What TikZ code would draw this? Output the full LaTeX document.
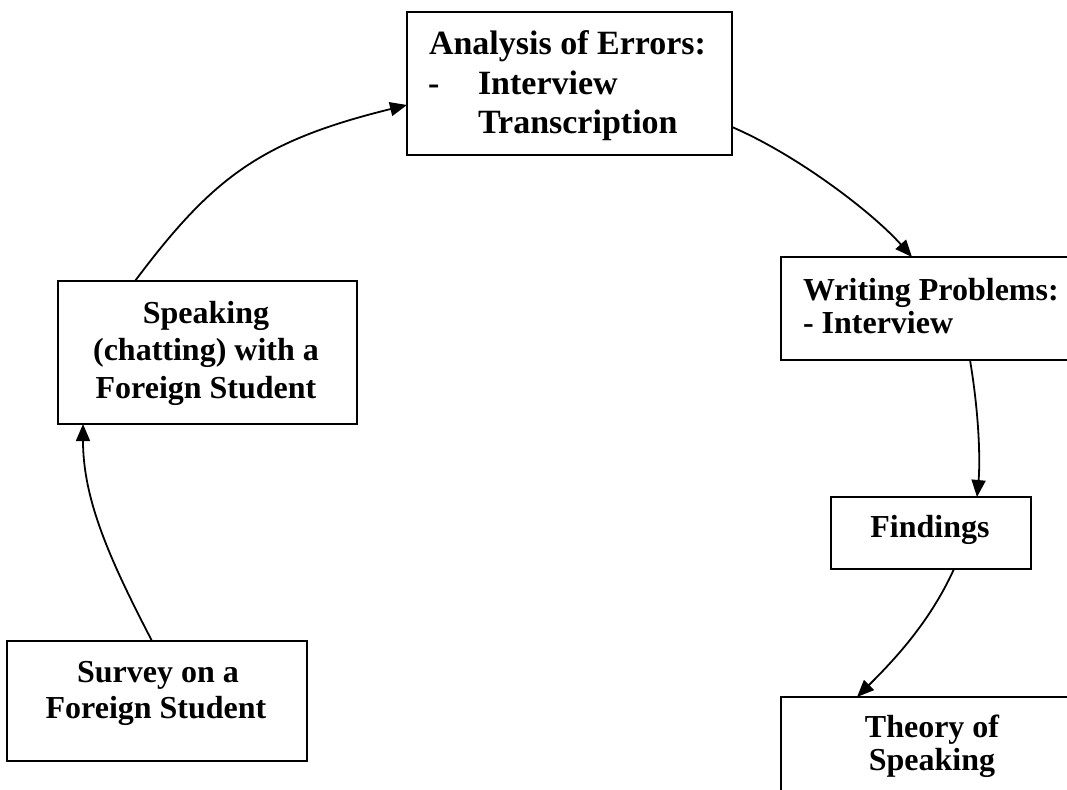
\documentclass[tikz,border=0pt]{standalone}
\usepackage{fontspec}
\setmainfont{Liberation Serif}
\usetikzlibrary{arrows.meta,calc}
\begin{document}
\begin{tikzpicture}[x=1pt,y=-1pt,
  box/.style={draw, line width=2pt, rectangle, inner sep=0pt, outer sep=0pt},
  txt/.style={inner sep=0pt, outer sep=0pt, font=\bfseries\fontsize{32}{38}\selectfont},
  bigtxt/.style={inner sep=0pt, outer sep=0pt, font=\bfseries\fontsize{34}{40}\selectfont},
  conn/.style={line width=1.8pt, -{Triangle[length=17pt,width=14pt]}}]
\useasboundingbox (0,0) rectangle (1067,789);
\fill[white] (0,0) rectangle (1067,789);
\clip (0,0) rectangle (1067,789);

% boxes
\node[box, minimum width=325pt, minimum height=143pt] (ana) at (569.5,83.5) {};
\node[box, minimum width=309pt, minimum height=103pt] (wri) at (935.5,308.5) {};
\node[box, minimum width=299pt, minimum height=143pt] (speak) at (207.5,352.5) {};
\node[box, minimum width=200pt, minimum height=72pt] (find) at (931,533) {};
\node[box, minimum width=300pt, minimum height=120pt] (surv) at (157,701) {};
\node[box, minimum width=309pt, minimum height=133pt] (theo) at (935.5,763.5) {};

% texts
\node[bigtxt, anchor=base west] (t1) at (429,55) {Analysis of Errors:};
\node[bigtxt, anchor=base west] (t2) at (428,95) {-};
\node[bigtxt, anchor=base west] (t3) at (478,95) {Interview};
\node[bigtxt, anchor=base west] (t4) at (478,133) {Transcription};

\node[txt, anchor=base west] (t5) at (803,300) {Writing Problems:};
\node[txt, anchor=base west] (t6) at (803,333) {- Interview};

\node[txt, anchor=base] (t7) at (206,323) {Speaking};
\node[txt, anchor=base] (t8) at (206,360) {(chatting) with a};
\node[txt, anchor=base] (t9) at (206,398) {Foreign Student};

\node[txt, anchor=base] (t10) at (930,537) {Findings};

\node[txt, anchor=base] (t11) at (158,682) {Survey on a};
\node[txt, anchor=base] (t12) at (156,718) {Foreign Student};

\node[txt, anchor=base] (t13) at (932,737) {Theory of};
\node[txt, anchor=base] (t14) at (932,770) {Speaking};

% connectors
\draw[conn] ([xshift=145pt]surv.north west) .. controls (110,560) and (83,500) .. ([xshift=25pt]speak.south west);
\draw[conn] ([xshift=77pt]speak.north west) .. controls (213,177) and (261,141) .. ([yshift=-93pt]ana.north west);
\draw[conn] ([yshift=-115pt]ana.north east) .. controls (797,155) and (872,212) .. ([xshift=131pt]wri.north west);
\draw[conn] ([xshift=189pt]wri.south west) .. controls (980,420) and (980,465) .. ([xshift=146pt]find.north west);
\draw[conn] ([xshift=123pt]find.south west) .. controls (929,624) and (892,662) .. ([xshift=76pt]theo.north west);
\end{tikzpicture}
\end{document}
